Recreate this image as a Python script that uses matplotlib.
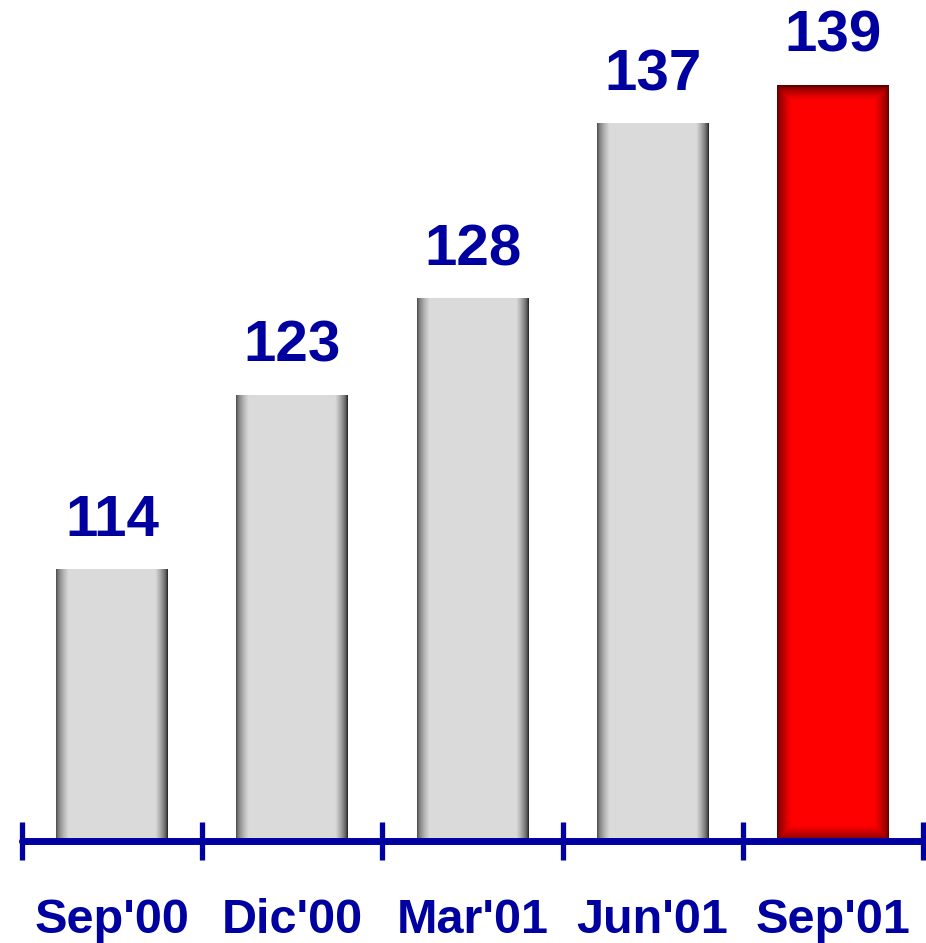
import numpy as np
import matplotlib
matplotlib.use("Agg")
import matplotlib.pyplot as plt

categories = ["Sep'00", "Dic'00", "Mar'01", "Jun'01", "Sep'01"]
values = [114, 123, 128, 137, 139]
highlight = [False, False, False, False, True]

BLUE = "#0000A0"
plt.rcParams['font.family'] = ['Liberation Sans', 'DejaVu Sans']

W, H = 926, 943
PXU = 19.38
fig = plt.figure(figsize=(W / 100, H / 100), dpi=100)
ax = fig.add_axes([22 / W, 102 / H, 901 / W, 841 / H])
base = 100
ax.set_xlim(-0.5, 4.5)
ax.set_ylim(base, base + 841 / PXU)

bw = 0.62


def gray_img():
    n = 200
    x = np.linspace(0, 1, n)
    edge = 0.11
    f = np.ones(n)
    left = x < edge
    f[left] = (x[left] / edge) ** 0.6
    right = x > 1 - edge
    f[right] = ((1 - x[right]) / edge) ** 0.6
    dark_l, dark_r, light = 0.28, 0.12, 0.855
    col = np.where(x < 0.5, dark_l + (light - dark_l) * f, dark_r + (light - dark_r) * f)
    img = np.stack([col, col, col], axis=-1)[None, :, :]
    return np.repeat(img, 2, axis=0)


def red_img(aspect_h_px, w_px):
    nx, ny = 200, 400
    x = np.linspace(0, 1, nx)
    y = np.linspace(0, 1, ny)
    ex = 0.13
    fx = np.clip(np.minimum(x, 1 - x) / ex, 0, 1) ** 0.6
    ey = ex * w_px / aspect_h_px
    fy = np.clip(np.minimum(y, 1 - y) / ey, 0, 1) ** 0.6
    f = np.minimum(fx[None, :], fy[:, None])
    r = 0.35 + 0.65 * f
    img = np.zeros((ny, nx, 3))
    img[..., 0] = r
    return img


for i, (v, hl) in enumerate(zip(values, highlight)):
    x0, x1 = i - bw / 2, i + bw / 2
    if hl:
        hpx = (v - base) * PXU
        img = red_img(hpx, 112)
    else:
        img = gray_img()
    ax.imshow(img, extent=(x0, x1, base, v), aspect='auto',
              interpolation='bilinear', zorder=1, origin='upper')
    ax.annotate(str(v), (i, v), xytext=(0, 24), textcoords='offset points',
                ha='center', va='baseline', fontsize=42, fontweight='bold',
                color=BLUE)

for s in ['top', 'right', 'left']:
    ax.spines[s].set_visible(False)
ax.spines['bottom'].set_color(BLUE)
ax.spines['bottom'].set_linewidth(5)
ax.spines['bottom'].set_zorder(3)
ax.spines['bottom'].set_capstyle('round')
ax.set_yticks([])

ax.set_xticks(np.arange(-0.5, 5, 1))
ax.set_xticklabels([])
ax.tick_params(axis='x', which='major', direction='inout', length=27,
               width=3.8, color=BLUE)
for t in ax.xaxis.get_major_ticks():
    t.tick1line.set_solid_capstyle('round')
    t.tick1line.set_clip_on(False)

for i, c in enumerate(categories):
    ax.annotate(c, (i, base), xytext=(0, -66), textcoords='offset points',
                ha='center', va='baseline', fontsize=35, fontweight='bold',
                color=BLUE, annotation_clip=False)

ax.patch.set_alpha(0)

fig.savefig("out.png", dpi=100)
